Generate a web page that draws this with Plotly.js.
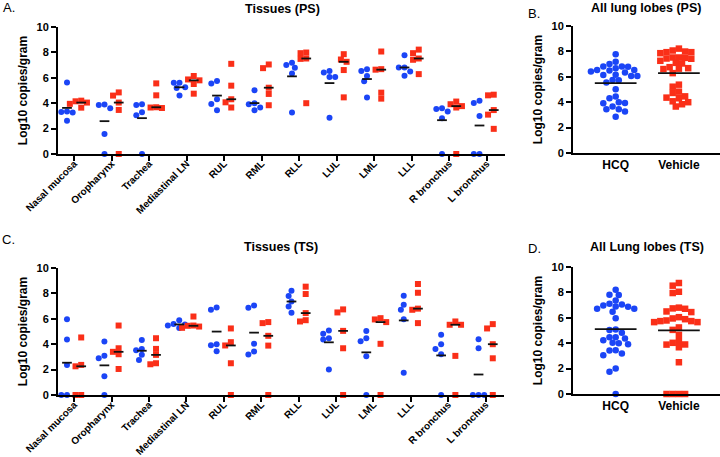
<!DOCTYPE html>
<html><head><meta charset="utf-8">
<script src="https://cdn.plot.ly/plotly-3.0.1.min.js"></script>
<style>html,body{margin:0;padding:0;background:#fff}#chart{width:720px;height:457px}</style>
</head><body><div id="chart"></div>
<script>
const categories = ["Nasal mucosa","Oropharynx","Trachea","Mediastinal LN","RUL","RML","RLL","LUL","LML","LLL","R bronchus","L bronchus"];
const groups = ["HCQ","Vehicle"];
const lobeIdx = [4,5,6,7,8,9];

// Panel A (PS) values, Log10 copies/gram
const psHCQ = [
 [5.63,3.34,3.30,3.26,2.62],
 [3.90,3.86,3.60,1.57,0],
 [3.92,3.86,3.29,3.05,0],
 [5.61,5.61,5.25,5.20,4.60],
 [5.74,5.56,4.31,3.94,3.45],
 [5.01,3.99,3.92,3.66,3.45],
 [7.18,7.00,6.79,6.34,3.26],
 [6.53,6.42,6.06,6.06,2.85],
 [6.68,6.53,6.14,5.72,4.44],
 [7.78,6.81,6.81,6.50,6.16],
 [3.60,3.55,3.34,2.82,0],
 [4.20,4.02,3.00,0,0]
];
const psVehicle = [
 [4.20,4.15,4.05,3.95,3.65],
 [4.85,4.60,4.05,3.47,0],
 [5.56,4.62,3.68,3.66,3.62],
 [6.14,5.87,5.80,5.51,4.75],
 [7.10,5.38,4.31,4.07,3.66],
 [7.05,6.76,5.22,4.73,3.84],
 [7.99,7.94,7.52,7.49,4.00],
 [7.86,7.44,7.26,6.61,4.46],
 [8.07,6.68,6.64,4.83,4.36],
 [8.22,7.94,7.52,7.42,6.29],
 [4.13,3.92,3.77,3.66,0],
 [4.67,4.62,3.46,3.10,1.98]
];
// Panel C (TS) values
const tsHCQ = [
 [5.97,4.37,2.37,0,0],
 [4.21,3.10,2.89,1.47,0],
 [4.34,3.63,3.53,3.16,2.76],
 [5.89,5.60,5.55,5.47,5.27],
 [6.89,6.71,4.00,3.92,3.45],
 [7.05,6.87,4.03,3.42,3.18],
 [8.21,7.79,7.37,6.97,6.47],
 [5.08,4.82,4.47,4.37,2.00],
 [5.03,4.47,4.24,3.05,0],
 [7.82,7.10,6.71,5.97,1.76],
 [4.74,4.00,3.63,3.21,0],
 [4.39,3.68,0,0,0]
];
const tsVehicle = [
 [4.53,2.37,2.26,0,0],
 [5.47,3.68,3.40,3.21,2.05],
 [4.47,3.63,3.16,2.50,2.42],
 [6.18,5.47,5.45,5.39,5.29],
 [5.24,4.16,3.90,2.50,0],
 [5.74,5.66,4.66,3.89,0],
 [8.53,7.95,6.45,5.89,5.79],
 [6.74,6.50,5.05,3.68,0],
 [6.05,5.95,5.74,4.03,0],
 [8.74,8.05,6.80,6.71,5.66],
 [5.79,5.53,5.53,3.08,0],
 [5.58,5.24,4.00,2.89,0]
];
const psFracHCQ = ["1/5","3/5","2/5","5/5","1/5","1/5","1/5","3/5","3/5","2/5","2/5","2/5"];
const psFracVehicle = ["1/5","4/5","3/5","4/5","1/5","1/5","2/5","3/5","2/5","0/5","1/5","4/5"];
const tsFracHCQ = ["2/5","2/5","2/5","4/5","1/5","0/5","1/5","3/5","1/5","4/5","4/5","2/5"];
const tsFracVehicle = ["3/5","3/5","4/5","4/5","2/5","0/5","1/5","4/5","5/5","4/5","2/5","1/5"];

const BLUE = '#1b45f6', RED = '#fa2f18', FONT = 'Liberation Sans, Arial, sans-serif';

function mean(a){return a.reduce((s,v)=>s+v,0)/a.length;}
function median(a){const s=[...a].sort((x,y)=>x-y);const n=s.length;return n%2?s[(n-1)/2]:(s[n/2-1]+s[n/2])/2;}
// greedy beeswarm: returns x offsets in data units
function swarm(vals, pxX, pxY, d){
  const idx = vals.map((v,i)=>i).sort((a,b)=>vals[b]-vals[a]);
  const placed=[]; const off=new Array(vals.length).fill(0);
  for(const i of idx){
    const y = vals[i]*pxY;
    for(let k=0;k<200;k++){
      const c = k===0?0:((k%2)?-1:1)*Math.ceil(k/2)*d/2;
      if(placed.every(p=>Math.hypot(p.x-c,p.y-y)>=d*0.97)){off[i]=c/pxX;placed.push({x:c,y});break;}
    }
  }
  return off;
}

const traces=[]; const annotations=[];
function tissuePanel(hcq, veh, fh, fv, xa, ya){
  const pxX=37.5, pxY=12.7, g=0.19, hw=0.13;
  const hx=[],hy=[],vx=[],vy=[],lx=[],ly=[];
  categories.forEach((c,i)=>{
    const oh=swarm(hcq[i],pxX,pxY,5.7), ov=swarm(veh[i],pxX,pxY,5.7);
    hcq[i].forEach((v,j)=>{hx.push(i-g+oh[j]);hy.push(v);});
    veh[i].forEach((v,j)=>{vx.push(i+g+ov[j]);vy.push(v);});
    const m=mean(hcq[i]), md=median(veh[i]);
    lx.push(i-g-hw,i-g+hw,null,i+g-hw,i+g+hw,null); ly.push(m,m,null,md,md,null);
    annotations.push({xref:xa,yref:ya,x:i-0.22,y:10.2,text:fh[i],showarrow:false,font:{family:FONT,size:7.5,color:'#222'}});
    annotations.push({xref:xa,yref:ya,x:i+0.17,y:10.2,text:fv[i],showarrow:false,font:{family:FONT,size:7.5,color:'#222'}});
  });
  traces.push({type:'scatter',mode:'markers',x:hx,y:hy,xaxis:xa,yaxis:ya,cliponaxis:false,marker:{symbol:'circle',size:6,color:BLUE},hoverinfo:'skip'});
  traces.push({type:'scatter',mode:'markers',x:vx,y:vy,xaxis:xa,yaxis:ya,cliponaxis:false,marker:{symbol:'square',size:6,color:RED},hoverinfo:'skip'});
  traces.push({type:'scatter',mode:'lines',x:lx,y:ly,xaxis:xa,yaxis:ya,cliponaxis:false,line:{color:'#111',width:1.8},hoverinfo:'skip'});
}
function pooledPanel(hcq, veh, xa, ya){
  const pxX=63.3, pxY=12.7, hw=0.33;
  const H=lobeIdx.flatMap(i=>hcq[i]), V=lobeIdx.flatMap(i=>veh[i]);
  const oh=swarm(H,pxX,pxY,6.2), ov=swarm(V,pxX,pxY,6.2);
  traces.push({type:'scatter',mode:'markers',x:H.map((v,j)=>0+oh[j]),y:H,xaxis:xa,yaxis:ya,cliponaxis:false,marker:{symbol:'circle',size:6.5,color:BLUE},hoverinfo:'skip'});
  traces.push({type:'scatter',mode:'markers',x:V.map((v,j)=>1+ov[j]),y:V,xaxis:xa,yaxis:ya,cliponaxis:false,marker:{symbol:'square',size:6.5,color:RED},hoverinfo:'skip'});
  const mh=mean(H), mv=mean(V);
  traces.push({type:'scatter',mode:'lines',x:[-hw,hw,null,1-hw,1+hw],y:[mh,mh,null,mv,mv],xaxis:xa,yaxis:ya,cliponaxis:false,line:{color:'#111',width:1.8},hoverinfo:'skip'});
}
tissuePanel(psHCQ, psVehicle, psFracHCQ, psFracVehicle, 'x', 'y');
pooledPanel(psHCQ, psVehicle, 'x2', 'y2');
tissuePanel(tsHCQ, tsVehicle, tsFracHCQ, tsFracVehicle, 'x3', 'y3');
pooledPanel(tsHCQ, tsVehicle, 'x4', 'y4');

const W=720,Hh=457;
const px=v=>v/W, py=v=>1-v/Hh;
const tickFont={family:FONT,size:11,color:'#000',weight:'bold'};
function yAx(top,bottom,anchor){
  return {domain:[py(bottom),py(top)],range:[0,10],dtick:2,tick0:0,anchor:anchor,showline:true,linewidth:2,linecolor:'#000',
    ticks:'outside',ticklen:5,tickwidth:2,tickcolor:'#000',showgrid:false,zeroline:false,tickfont:tickFont,
    title:{text:'Log10 copies/gram',font:{family:FONT,size:12,color:'#000',weight:'bold'},standoff:6}};
}
function xTissue(left,right,anchor){
  return {domain:[px(left),px(right)],range:[-0.43,11.49],anchor:anchor,tickmode:'array',tickvals:categories.map((c,i)=>i),ticktext:categories,
    tickangle:-45,showline:true,linewidth:2,linecolor:'#000',ticks:'outside',ticklen:5,tickwidth:2,tickcolor:'#000',showgrid:false,zeroline:false,
    ticklabelstandoff:-7,tickfont:{family:FONT,size:10,color:'#000',weight:'bold'}};
}
function xPooled(anchor){
  return {domain:[px(573),1],range:[-0.675,1.65],anchor:anchor,tickmode:'array',tickvals:[0,1],ticktext:groups,tickangle:0,
    showline:true,linewidth:2,linecolor:'#000',ticks:'',showgrid:false,zeroline:false,tickfont:{family:FONT,size:12,color:'#000',weight:'bold'}};
}
function paperText(x,y,text,size,bold,anchor){
  annotations.push({xref:'paper',yref:'paper',x:px(x),y:py(y),text:text,showarrow:false,xanchor:anchor||'center',yanchor:'middle',
    font:{family:FONT,size:size,color:'#000',weight:bold?'bold':'normal'}});
}
paperText(282,9,'Tissues (PS)',12.5,true);
paperText(646,8,'All lung lobes (PS)',12.5,true);
paperText(281,247,'Tissues (TS)',12.5,true);
paperText(647,247,'All Lung lobes (TS)',12.5,true);
paperText(1,8,'A.',13,false,'left');
paperText(526,14,'B.',13,false,'left');
paperText(0,240,'C.',13,false,'left');
paperText(526,248,'D.',13,false,'left');

const layout={width:W,height:Hh,margin:{l:0,r:0,t:0,b:0},paper_bgcolor:'#fff',plot_bgcolor:'rgba(0,0,0,0)',showlegend:false,
  font:{family:FONT,color:'#000'},
  xaxis:xTissue(58,505,'y'), yaxis:yAx(27,154,'x'),
  xaxis2:xPooled('y2'), yaxis2:yAx(26,153,'x2'),
  xaxis3:xTissue(58,504,'y3'), yaxis3:yAx(268,395,'x3'),
  xaxis4:xPooled('y4'), yaxis4:yAx(267,394,'x4'),
  annotations:annotations};
Plotly.newPlot('chart',traces,layout,{staticPlot:true,displayModeBar:false});
</script></body></html>
